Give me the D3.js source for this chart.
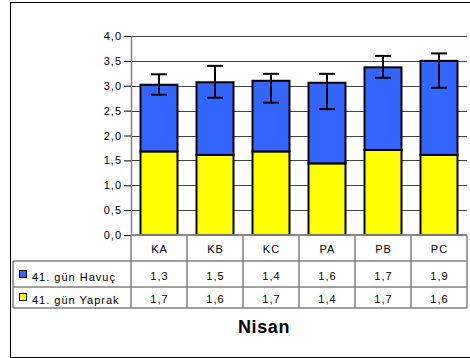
<!DOCTYPE html>
<html><head><meta charset="utf-8">
<script src="https://cdn.jsdelivr.net/npm/d3@7"></script>
<style>html,body{margin:0;padding:0;background:#fff;}svg{display:block;font-family:"Liberation Sans",Arial,sans-serif;}</style>
</head><body><svg id="c" width="470" height="358"></svg>
<script>
const categories = ["KA","KB","KC","PA","PB","PC"];
const seriesNames = ["41. gün Havuç","41. gün Yaprak"];
const havuc  = [1.34,1.46,1.42,1.62,1.66,1.89];
const yaprak = [1.68,1.61,1.68,1.44,1.71,1.61];
const errLow  = [2.82,2.76,2.66,2.53,3.16,2.96];
const errHigh = [3.23,3.40,3.24,3.24,3.60,3.65];
const yTicks = [0,0.5,1,1.5,2,2.5,3,3.5,4];
const title = "Nisan";
const colors = {havuc:"#3366FF", yaprak:"#FFFF00"};

const svg = d3.select("#c");
const fmt = v => d3.format(".1f")(v).replace(".", ",");

// outer frame
svg.append("rect").attr("x",10.5).attr("y",2.5).attr("width",520).attr("height",355)
  .attr("fill","none").attr("stroke","#000").attr("stroke-width",1);

const x = d3.scaleBand().domain(categories).range([131,467]);
const y = d3.scaleLinear().domain([0,4]).range([235,36]);

// gridlines
svg.append("g").selectAll("line").data(yTicks.filter(t=>t>0)).join("line")
  .attr("x1",131).attr("x2",467)
  .attr("y1",d=>Math.round(y(d))+0.5).attr("y2",d=>Math.round(y(d))+0.5)
  .attr("stroke","#444").attr("stroke-width",1);

// y axis
const yAxis = d3.axisLeft(y).tickValues(yTicks).tickFormat(fmt).tickSize(7).tickSizeOuter(0);
const ga = svg.append("g").attr("transform","translate(131,0)").call(yAxis);
ga.select(".domain").attr("stroke","#808080").attr("stroke-width",1.5);
ga.selectAll(".tick line").attr("stroke","#000");
ga.selectAll(".tick text").attr("font-size",11).attr("fill","#000").attr("x",-9)
  .attr("letter-spacing","1px")
  .attr("font-family","'Liberation Sans',Arial,sans-serif");

// bars
const bw = 37;
const bx = d => x(d) + (x.bandwidth()-bw)/2;
const g = svg.append("g");
g.selectAll(".yap").data(categories).join("rect")
  .attr("x",d=>bx(d)).attr("width",bw)
  .attr("y",(d,i)=>y(yaprak[i])).attr("height",(d,i)=>y(0)-y(yaprak[i]))
  .attr("fill",colors.yaprak).attr("stroke","#000").attr("stroke-width",2);
g.selectAll(".hav").data(categories).join("rect")
  .attr("x",d=>bx(d)).attr("width",bw)
  .attr("y",(d,i)=>y(yaprak[i]+havuc[i])).attr("height",(d,i)=>y(yaprak[i])-y(yaprak[i]+havuc[i]))
  .attr("fill",colors.havuc).attr("stroke","#000").attr("stroke-width",2);

// error bars
const cap = 8;
const eg = svg.append("g").attr("stroke","#000").attr("stroke-width",2);
categories.forEach((c,i)=>{
  const cx = x(c)+x.bandwidth()/2;
  eg.append("line").attr("x1",cx).attr("x2",cx).attr("y1",y(errLow[i])).attr("y2",y(errHigh[i]));
  eg.append("line").attr("x1",cx-cap).attr("x2",cx+cap).attr("y1",y(errLow[i])).attr("y2",y(errLow[i]));
  eg.append("line").attr("x1",cx-cap).attr("x2",cx+cap).attr("y1",y(errHigh[i])).attr("y2",y(errHigh[i]));
});

// data table
const rowTop = [235, 261, 287, 308];
const tg = svg.append("g").attr("stroke","#808080").attr("stroke-width",1.5);
tg.append("line").attr("x1",131).attr("x2",467).attr("y1",rowTop[0]).attr("y2",rowTop[0]);
[1,2,3].forEach(r=>tg.append("line").attr("x1",13).attr("x2",467).attr("y1",rowTop[r]).attr("y2",rowTop[r]));
tg.append("line").attr("x1",13).attr("x2",13).attr("y1",rowTop[1]).attr("y2",rowTop[3]);
tg.append("line").attr("x1",131).attr("x2",131).attr("y1",rowTop[0]).attr("y2",rowTop[3]);
categories.forEach(c=>{
  const xr = x(c)+x.bandwidth();
  tg.append("line").attr("x1",xr).attr("x2",xr).attr("y1",rowTop[0]).attr("y2",rowTop[3]);
});
svg.append("line").attr("x1",131).attr("x2",467).attr("y1",235).attr("y2",235).attr("stroke","#808080").attr("stroke-width",1.5);

const txt = svg.append("g").attr("font-size",11).attr("fill","#000").attr("text-anchor","middle")
  .attr("letter-spacing","1px");
categories.forEach((c,i)=>{
  const cx = x(c)+x.bandwidth()/2 + 0.5;
  txt.append("text").attr("x",cx).attr("y",253).text(c);
  txt.append("text").attr("x",cx).attr("y",280).text(fmt(havuc[i]));
  txt.append("text").attr("x",cx).attr("y",303).text(fmt(yaprak[i]));
});

// legend keys in table
const lg = svg.append("g").attr("font-size",11).attr("fill","#000").attr("letter-spacing","1px");
[[seriesNames[0],colors.havuc,281],[seriesNames[1],colors.yaprak,304]].forEach(([n,col,yy])=>{
  lg.append("rect").attr("x",19.5).attr("y",yy-10.5).attr("width",7).attr("height",7)
    .attr("fill",col).attr("stroke","#000").attr("stroke-width",1);
  lg.append("text").attr("x",32).attr("y",yy).text(n);
});

// title
svg.append("text").attr("x",238).attr("y",333).attr("font-size",18).attr("font-weight","bold")
  .attr("letter-spacing","0.6px").attr("fill","#000").text(title);
</script></body></html>
